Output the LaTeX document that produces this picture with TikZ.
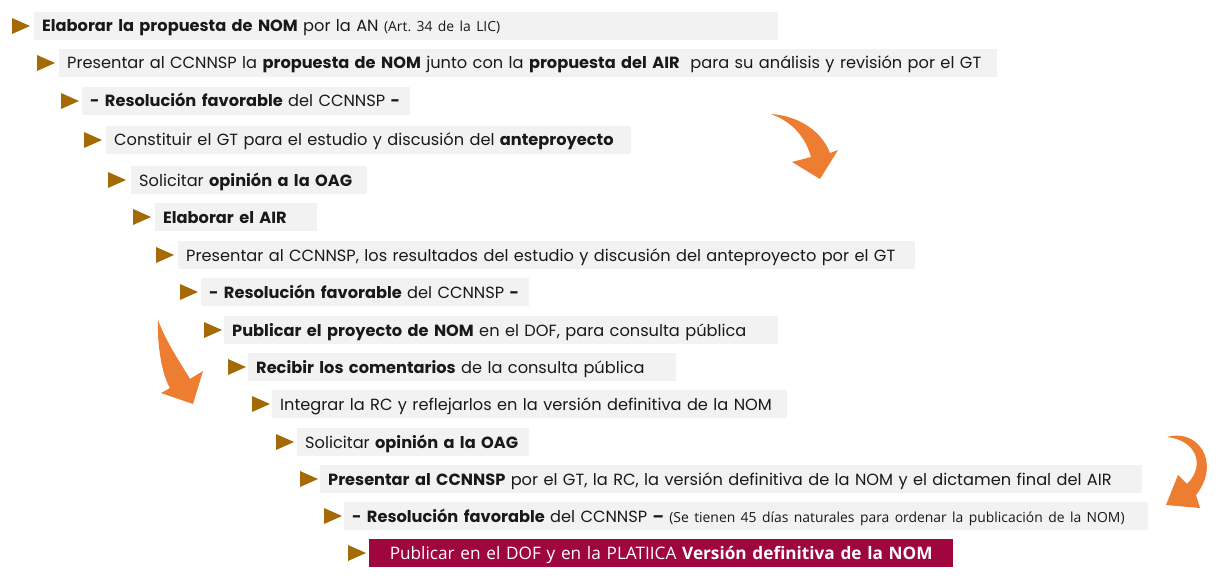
\documentclass[tikz,border=0pt]{standalone}
\usepackage{fontspec}
\setmainfont{Poppins}
\newfontfamily\narrowfont{Open Sans}
\frenchspacing
\definecolor{boxgray}{HTML}{F2F2F2}
\definecolor{tricol}{HTML}{A36A05}
\definecolor{arrorange}{HTML}{ED7D31}
\definecolor{maroon}{HTML}{A0063E}
\tikzset{
  stepbox/.style={fill=boxgray, anchor=west, inner xsep=8pt, inner ysep=0pt,
    minimum height=28pt, text width=#1, align=left, text height=14pt, text depth=2pt,
    font=\fontsize{16.2}{18}\selectfont, text=black!90},
  finalbox/.style={fill=maroon, anchor=west, inner xsep=8pt, inner ysep=0pt,
    minimum height=28pt, text width=#1, align=center, text height=14pt, text depth=2pt,
    text=white, font=\narrowfont\fontsize{17.2}{19}\selectfont},
  bullet/.style={fill=tricol},
  bigarrow/.style={fill=arrorange}
}
\newcommand{\tri}[2]{\fill[bullet] (#1,#2-8) -- (#1+18,#2) -- (#1,#2+8) -- cycle;}
\newcommand{\smalltxt}[1]{{\narrowfont\fontsize{13.9}{15}\selectfont #1}}
\begin{document}
\begin{tikzpicture}[x=1pt,y=-1pt]
\useasboundingbox (0,0) rectangle (1225,580);
% rows
\tri{12}{26}
\node[stepbox=728pt] (b1) at (34,26) {\textbf{Elaborar la propuesta de NOM} por la AN \smalltxt{(Art. 34 de la LIC)}};
\tri{37}{63}
\node[stepbox=922pt] (b2) at (59,63) {Presentar al CCNNSP la \textbf{propuesta de NOM} junto con la \textbf{propuesta del AIR}\ \ para su análisis y revisión por el GT};
\tri{61}{101}
\node[stepbox=312pt] (b3) at (82,101) {\textbf{- Resolución favorable} del CCNNSP \textbf{-}};
\tri{84}{140}
\node[stepbox=509pt] (b4) at (106,140) {Constituir el GT para el estudio y discusión del \textbf{anteproyecto}};
\tri{108}{180}
\node[stepbox=220pt] (b5) at (131,180) {Solicitar \textbf{opinión a la OAG}};
\tri{133}{217}
\node[stepbox=146pt] (b6) at (155,217) {\textbf{Elaborar el AIR}};
\tri{156}{255}
\node[stepbox=721pt] (b7) at (178,255) {Presentar al CCNNSP, los resultados del estudio y discusión del anteproyecto por el GT};
\tri{180}{292}
\node[stepbox=312pt] (b8) at (201,292) {\textbf{- Resolución favorable} del CCNNSP \textbf{-}};
\tri{204}{330}
\node[stepbox=538pt] (b9) at (224,330) {\textbf{Publicar el proyecto de NOM} en el DOF, para consulta pública};
\tri{228}{367}
\node[stepbox=412pt] (b10) at (248,367) {\textbf{Recibir los comentarios} de la consulta pública};
\tri{252}{404}
\node[stepbox=499pt] (b11) at (272,404) {Integrar la RC y reflejarlos en la versión definitiva de la NOM};
\tri{276}{442}
\node[stepbox=216pt] (b12) at (297,442) {Solicitar \textbf{opinión a la OAG}};
\tri{300}{479}
\node[stepbox=806pt] (b13) at (320,479) {\textbf{Presentar al CCNNSP} por el GT, la RC, la versión definitiva de la NOM y el dictamen final del AIR};
\tri{324}{516}
\node[stepbox=788pt] (b14) at (344,516) {\textbf{- Resolución favorable} del CCNNSP \textbf{--} \smalltxt{(Se tienen 45 días naturales para ordenar la publicación de la NOM)}};
\tri{348}{553}
\node[finalbox=568pt] (b15) at (369,553) {Publicar en el DOF y en la PLATIICA \textbf{Versión definitiva de la NOM}};
% orange curved arrows
\fill[bigarrow] (771,114) .. controls (800,116) and (822,132) .. (830,153)
  -- (838,150) -- (820,179) -- (792,162) -- (811,157)
  .. controls (805,136) and (792,122) .. cycle;
\fill[bigarrow] (158,320) .. controls (157,345) and (162,375) .. (170,388)
  -- (161,393) -- (193,404) -- (203,371) -- (190,379)
  .. controls (180,362) and (166,342) .. cycle;
\fill[bigarrow] (1167,437) .. controls (1197,428) and (1222,462) .. (1196,495)
  -- (1200,508) -- (1166,505) -- (1178,475) -- (1187,484)
  .. controls (1206,465) and (1196,440) .. cycle;
\end{tikzpicture}
\end{document}
